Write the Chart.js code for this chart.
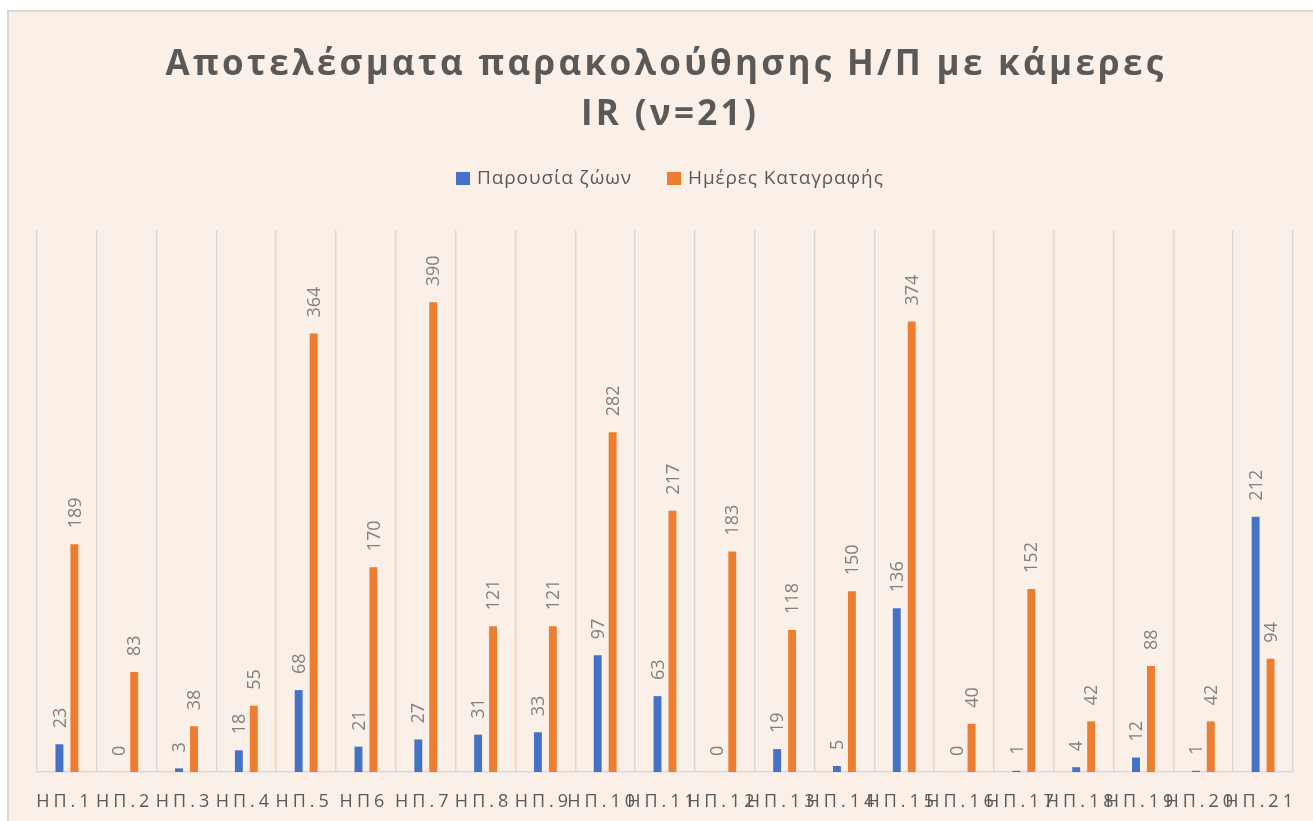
<!DOCTYPE html>
<html>
<head>
<meta charset="utf-8">
<script src="https://cdn.jsdelivr.net/npm/chart.js@4.4.0/dist/chart.umd.min.js"></script>
<style>
    body { margin: 0; background: #ffffff; overflow: hidden; }
    #panel { position: absolute; left: 7px; top: 10px; width: 1320px; height: 830px; background: #fbf0e7; border: 2px solid #d9d9d9; box-sizing: border-box; }
    #chart { position: absolute; left: 0; top: 0; }
</style>
</head>
<body>
<div id="panel"></div>
<canvas id="chart" width="1313" height="821"></canvas>
<script>
const categories = ["ΗΠ.1", "ΗΠ.2", "ΗΠ.3", "ΗΠ.4", "ΗΠ.5", "ΗΠ6", "ΗΠ.7", "ΗΠ.8", "ΗΠ.9", "ΗΠ.10", "ΗΠ.11",
    "ΗΠ.12", "ΗΠ.13", "ΗΠ.14", "ΗΠ.15", "ΗΠ.16", "ΗΠ.17", "ΗΠ.18", "ΗΠ.19", "ΗΠ.20", "ΗΠ.21"];
const presence = [23, 0, 3, 18, 68, 21, 27, 31, 33, 97, 63, 0, 19, 5, 136, 0, 1, 4, 12, 1, 212];
const recordDays = [189, 83, 38, 55, 364, 170, 390, 121, 121, 282, 217, 183, 118, 150, 374, 40, 152, 42, 88, 42, 94];
const seriesNames = ["Παρουσία ζώων", "Ημέρες Καταγραφής"];
const titleLines = ["Αποτελέσματα παρακολούθησης Η/Π με κάμερες", "IR (ν=21)"];

const colors = ["#4472c4", "#ed7d31"];

// title, legend, rotated value labels and spaced category labels
const decorations = {
    id: "decorations",
    afterDraw(chart) {
        const ctx = chart.ctx;
        const xScale = chart.scales.x;

        ctx.save();
        ctx.fillStyle = "#595959";
        ctx.textAlign = "center";
        ctx.textBaseline = "alphabetic";
        ctx.font = "bold 35px 'Open Sans'";
        ctx.letterSpacing = "3.3px";
        ctx.fillText(titleLines[0], 666, 75);
        ctx.fillText(titleLines[1], 670, 125);

        // legend
        ctx.font = "19px 'Open Sans'";
        ctx.letterSpacing = "0.9px";
        ctx.textAlign = "left";
        ctx.textBaseline = "middle";
        const legendX = [456, 667];
        seriesNames.forEach((name, i) => {
            ctx.fillStyle = colors[i];
            ctx.fillRect(legendX[i], 172, 14, 13);
            ctx.fillStyle = "#595959";
            ctx.fillText(name, legendX[i] + 21, 179);
        });

        // value labels
        ctx.font = "18px 'Open Sans'";
        ctx.letterSpacing = "0px";
        ctx.fillStyle = "#808080";
        chart.data.datasets.forEach((ds, di) => {
            chart.getDatasetMeta(di).data.forEach((bar, i) => {
                ctx.save();
                ctx.translate(bar.x, bar.y - 16);
                ctx.rotate(-Math.PI / 2);
                ctx.textAlign = "left";
                ctx.textBaseline = "middle";
                ctx.fillText(String(ds.data[i]), 0, 1);
                ctx.restore();
            });
        });

        // category labels
        ctx.font = "18px 'Open Sans'";
        ctx.fillStyle = "#595959";
        ctx.letterSpacing = "4px";
        ctx.textAlign = "center";
        ctx.textBaseline = "middle";
        categories.forEach((label, i) => {
            ctx.fillText(label, xScale.getPixelForTick(i) - 2, 802);
        });
        ctx.restore();
    }
};

new Chart(document.getElementById("chart"), {
    type: "bar",
    data: {
        labels: categories,
        datasets: [
            { label: seriesNames[0], data: presence, backgroundColor: colors[0] },
            { label: seriesNames[1], data: recordDays, backgroundColor: colors[1] }
        ]
    },
    options: {
        responsive: false,
        animation: false,
        categoryPercentage: 0.5,
        barPercentage: 0.53,
        layout: { padding: { left: 37, right: 20, top: 230, bottom: 49 } },
        plugins: { legend: { display: false }, title: { display: false }, tooltip: { enabled: false } },
        scales: {
            x: {
                grid: { color: "#d9d9d9", lineWidth: 1.5, drawTicks: false, offset: true },
                border: { color: "#d9d9d9", width: 1.5 },
                ticks: { display: false }
            },
            y: { display: false, min: 0, max: 450 }
        }
    },
    plugins: [decorations]
});
</script>
</body>
</html>
